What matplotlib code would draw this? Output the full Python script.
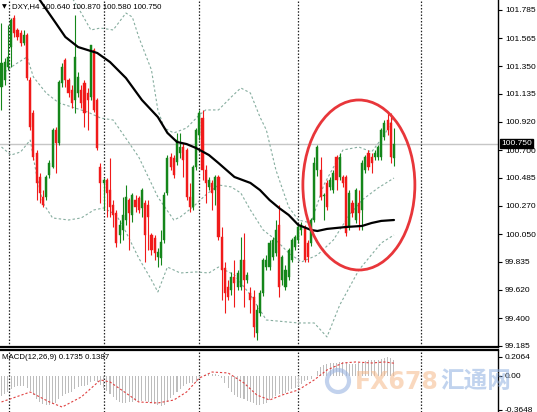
import matplotlib
matplotlib.use('Agg')
import matplotlib.pyplot as plt
import numpy as np
from matplotlib.patches import Ellipse, Circle

# ---------------- data ----------------
opens = [101.189, 101.243, 101.343, 101.498, 101.723, 101.630, 101.607, 101.529, 101.591, 101.243,
         100.987, 100.678, 100.492, 100.337, 100.337, 100.507, 100.569, 100.856, 100.755, 101.220,
         101.398, 101.243, 101.165, 101.088, 101.142, 101.165, 101.220, 101.142, 101.111, 101.475,
         101.088, 100.569, 100.446, 100.469, 100.391, 100.275, 100.213, 100.043, 100.082, 100.159,
         100.314, 100.198, 100.314, 100.329, 100.252, 100.291, 100.275, 100.043, 100.020, 99.873,
         99.865, 100.004, 100.368, 100.647, 100.639, 100.608, 100.678, 100.724, 100.701, 100.337,
         100.260, 100.569, 100.817, 100.949, 100.546, 100.415, 100.446, 100.391, 100.492, 100.028,
         99.788, 99.641, 99.617, 99.718, 99.641, 99.641, 99.850, 99.695, 99.594, 99.563,
         99.285, 99.439, 99.594, 99.795, 99.795, 99.873, 99.904, 100.121, 99.695, 99.641,
         99.718, 99.850, 99.950, 100.004, 100.082, 100.105, 99.981, 99.981, 100.159, 100.546,
         100.546, 100.345, 100.446, 100.415, 100.391, 100.647, 100.492, 100.492, 100.492, 100.105,
         100.291, 100.159, 100.291, 100.237, 100.546, 100.678, 100.647, 100.647, 100.647, 100.647,
         100.802, 100.933, 100.910, 100.640]
highs = [101.684, 101.413, 101.668, 101.723, 101.746, 101.645, 101.630, 101.630, 101.607, 101.266,
         101.011, 100.701, 100.523, 100.391, 100.507, 100.624, 100.871, 100.879, 101.243, 101.374,
         101.413, 101.258, 101.204, 101.746, 101.305, 101.204, 101.243, 101.181, 101.514, 101.491,
         101.103, 100.600, 100.484, 100.484, 100.639, 100.314, 100.237, 100.159, 100.337, 100.430,
         100.329, 100.368, 100.353, 100.345, 100.407, 100.314, 100.314, 100.058, 100.043, 99.942,
         100.082, 100.376, 100.662, 100.678, 100.662, 100.833, 100.833, 100.755, 100.716, 100.446,
         100.585, 100.871, 101.011, 101.011, 100.585, 100.492, 100.469, 100.507, 100.507, 100.105,
         99.834, 99.695, 99.757, 99.850, 99.772, 100.028, 100.059, 99.757, 99.641, 99.617,
         99.501, 99.617, 99.865, 99.888, 100.004, 100.028, 100.159, 100.275, 99.888, 99.811,
         99.942, 100.020, 100.043, 100.121, 100.144, 100.121, 100.004, 100.175, 100.647, 100.740,
         100.647, 100.368, 100.469, 100.492, 100.546, 100.662, 100.678, 100.507, 100.507, 100.391,
         100.314, 100.407, 100.391, 100.624, 100.662, 100.701, 100.678, 100.701, 100.740, 100.871,
         100.933, 100.987, 100.987, 100.870]
lows = [101.011, 101.204, 101.320, 101.343, 101.576, 101.552, 101.506, 101.514, 101.243, 100.856,
        100.624, 100.314, 100.291, 100.260, 100.314, 100.484, 100.562, 100.523, 100.740, 101.189,
        101.189, 101.111, 101.026, 100.987, 101.111, 101.026, 100.879, 100.856, 101.088, 100.995,
        100.701, 100.291, 100.237, 100.182, 100.182, 100.105, 99.950, 99.981, 100.004, 100.121,
        99.927, 100.144, 100.221, 100.213, 100.182, 99.834, 99.927, 99.888, 99.850, 99.795,
        99.811, 99.981, 100.353, 100.546, 100.484, 100.585, 100.639, 100.492, 100.314, 100.221,
        100.237, 100.546, 100.778, 100.469, 100.291, 100.391, 100.237, 100.275, 100.004, 99.540,
        99.439, 99.540, 99.579, 99.486, 99.617, 99.617, 99.486, 99.672, 99.439, 99.254,
        99.230, 99.416, 99.571, 99.772, 99.772, 99.850, 99.881, 99.563, 99.656, 99.617,
        99.695, 99.834, 99.927, 99.981, 100.043, 99.834, 99.834, 99.958, 100.144, 100.500,
        100.314, 100.159, 100.237, 100.391, 100.368, 100.391, 100.469, 100.415, 100.035, 100.082,
        100.182, 100.136, 100.082, 100.082, 100.523, 100.546, 100.523, 100.624, 100.624, 100.624,
        100.778, 100.817, 100.600, 100.580]
closes = [101.374, 101.382, 101.421, 101.707, 101.607, 101.576, 101.529, 101.591, 101.258, 100.879,
          100.647, 100.446, 100.368, 100.275, 100.492, 100.600, 100.856, 100.755, 101.227, 101.343,
          101.243, 101.142, 101.065, 101.421, 101.266, 101.065, 100.987, 101.088, 101.514, 101.011,
          100.716, 100.446, 100.469, 100.368, 100.260, 100.198, 99.981, 100.121, 100.198, 100.337,
          100.213, 100.353, 100.260, 100.237, 100.391, 100.043, 100.182, 99.927, 99.904, 99.912,
          99.989, 100.353, 100.639, 100.569, 100.507, 100.778, 100.724, 100.624, 100.337, 100.260,
          100.569, 100.856, 100.987, 100.546, 100.446, 100.469, 100.368, 100.492, 100.028, 99.772,
          99.594, 99.563, 99.718, 99.672, 99.749, 99.850, 99.695, 99.733, 99.540, 99.331,
          99.463, 99.594, 99.850, 99.850, 99.981, 100.004, 100.082, 99.641, 99.873, 99.772,
          99.927, 100.004, 100.028, 100.105, 100.121, 99.850, 99.873, 100.159, 100.600, 100.724,
          100.337, 100.353, 100.260, 100.469, 100.523, 100.469, 100.647, 100.446, 100.059, 100.368,
          100.213, 100.391, 100.213, 100.600, 100.647, 100.569, 100.600, 100.678, 100.724, 100.856,
          100.910, 100.856, 100.647, 100.750]

# moving average (black)
ma_idx = [10, 12, 17, 20, 24, 28, 30, 34, 39, 44, 49, 52, 55, 58, 61, 65, 68, 73, 78, 81, 84, 87,
          90, 93, 97, 99, 102, 108, 113, 116, 119, 123]
ma_val = [101.955, 101.862, 101.684, 101.576, 101.498, 101.467, 101.452, 101.382, 101.258, 101.088,
          100.956, 100.833, 100.763, 100.747, 100.716, 100.662, 100.600, 100.492, 100.446, 100.391,
          100.314, 100.252, 100.198, 100.121, 100.082, 100.074, 100.090, 100.105, 100.113, 100.136,
          100.152, 100.159]

# bands (dashed)
up_idx = [21, 25, 28, 31, 35, 39, 41, 43, 47, 49, 51, 54, 58, 62, 64, 68, 72, 75, 78, 81, 83, 86,
          90, 93, 97, 101, 107, 112, 116, 120, 123]
up_val = [101.924, 101.761, 101.630, 101.645, 101.630, 101.761, 101.730, 101.576, 101.320, 101.011,
          100.871, 100.833, 100.871, 100.972, 101.011, 101.011, 101.111, 101.181, 101.142, 100.956,
          100.856, 100.546, 100.260, 100.159, 100.136, 100.430, 100.701, 100.724, 100.686, 100.817,
          100.956]
mid_idx = [1, 4, 8, 10, 14, 18, 22, 27, 31, 35, 40, 43, 49, 54, 56, 60, 64, 68, 72, 75, 78, 82,
           86, 90, 94, 99, 104, 109, 113, 118, 123]
mid_val = [101.305, 101.359, 101.421, 101.266, 101.142, 101.065, 101.034, 100.995, 100.949, 100.933,
           100.755, 100.647, 100.337, 100.159, 100.182, 100.260, 100.353, 100.430, 100.415, 100.368,
           100.237, 100.082, 100.004, 99.904, 99.834, 99.888, 100.004, 100.198, 100.314, 100.407,
           100.484]
lo_idx = [0, 3, 6, 9, 11, 13, 16, 21, 25, 29, 32, 36, 39, 43, 47, 49, 52, 56, 61, 65, 68, 73, 78,
          83, 93, 98, 102, 106, 112, 119, 123]
lo_val = [100.724, 100.662, 100.686, 100.778, 100.507, 100.291, 100.175, 100.159, 100.175, 100.237,
          100.252, 100.198, 100.066, 99.865, 99.695, 99.602, 99.795, 99.749, 99.757, 99.749, 99.795,
          99.734, 99.579, 99.385, 99.362, 99.362, 99.254, 99.501, 99.772, 99.981, 100.043]

# MACD histogram and signal
macd = [-0.217, -0.196, -0.174, -0.141, -0.120, -0.109, -0.109, -0.109, -0.130, -0.163,
        -0.206, -0.250, -0.282, -0.304, -0.315, -0.315, -0.304, -0.293, -0.250, -0.217,
        -0.196, -0.185, -0.174, -0.141, -0.120, -0.109, -0.109, -0.098, -0.065, -0.054,
        -0.065, -0.098, -0.130, -0.163, -0.196, -0.228, -0.261, -0.282, -0.293, -0.293,
        -0.282, -0.282, -0.272, -0.272, -0.272, -0.272, -0.282, -0.282, -0.304, -0.315,
        -0.326, -0.315, -0.282, -0.239, -0.206, -0.174, -0.141, -0.109, -0.087, -0.076,
        -0.076, -0.065, -0.033, 0.000, 0.011, 0.022, 0.022, 0.022, 0.011, -0.022,
        -0.076, -0.130, -0.174, -0.206, -0.228, -0.239, -0.250, -0.272, -0.282, -0.293,
        -0.315, -0.315, -0.304, -0.293, -0.261, -0.239, -0.217, -0.196, -0.196, -0.185,
        -0.163, -0.141, -0.130, -0.109, -0.087, -0.054, -0.043, -0.033, 0.000, 0.054,
        0.098, 0.120, 0.130, 0.141, 0.141, 0.141, 0.152, 0.152, 0.141, 0.130,
        0.130, 0.130, 0.141, 0.141, 0.163, 0.174, 0.174, 0.174, 0.174, 0.185,
        0.196, 0.206, 0.196, 0.1735]
sig_idx = [0, 9, 15, 19, 25, 31, 34, 39, 43, 49, 54, 58, 62, 66, 71, 76, 80, 84, 88, 93, 98, 102,
           107, 111, 116, 120, 123]
sig_val = [-0.282, -0.174, -0.282, -0.337, -0.228, -0.043, -0.065, -0.185, -0.282, -0.293, -0.261,
           -0.174, -0.022, 0.043, 0.033, -0.076, -0.206, -0.261, -0.206, -0.152, -0.043, 0.065,
           0.141, 0.152, 0.141, 0.152, 0.1387]

separators = [2.35, 32.1, 61.9, 92.9, 131.5]
price_ticks = [101.785, 101.565, 101.350, 101.135, 100.920, 100.700, 100.485, 100.270, 100.050,
               99.835, 99.620, 99.400, 99.185]
macd_ticks = [0.2064, 0.0, -0.3648]
macd_tick_labels = ['0.2064', '0.00', '-0.3648']
last_price = 100.750
header = 'DXY,H4 100.640 100.870 100.580 100.750'
macd_header = 'MACD(12,26,9) 0.1735 0.1387'

# ---------------- figure ----------------
W, H = 537, 412
fig = plt.figure(figsize=(W / 100, H / 100), dpi=100)
fig.patch.set_facecolor('white')
FONT = 'Liberation Sans'
FS = 6

ax = fig.add_axes([0, 65 / H, 498 / W, 347 / H])
ax2 = fig.add_axes([0, 0, 498 / W, 62 / H])

xlim = (-0.47, 155.6)
for a in (ax, ax2):
    a.set_xlim(*xlim)
    a.set_facecolor('white')
    a.spines['left'].set_visible(False)
    a.spines['right'].set_color('black')
    a.spines['right'].set_linewidth(1.0)
    a.set_xticks([])
    a.yaxis.tick_right()
    a.tick_params(axis='y', direction='out', length=3, width=0.8, pad=2,
                  labelsize=FS, colors='black')

ax.spines['top'].set_visible(False)
ax.spines['bottom'].set_linewidth(1.6)
ax2.spines['top'].set_linewidth(1.6)
ax2.spines['bottom'].set_visible(False)

ax.set_ylim(99.176, 101.862)
ax2.set_ylim(-0.391, 0.282)

x = np.arange(len(opens))
o = np.array(opens); c = np.array(closes); hi = np.array(highs); lo = np.array(lows)
up = c >= o
GREEN = '#14861a'
RED = '#f01a1a'
cols = np.where(up, GREEN, RED)

# price line
ax.axhline(last_price, color='#c6c6c6', lw=1.0, zorder=1)

# separators
for s in separators:
    ax.axvline(s, color='#222222', ls=(0, (1.2, 1.4)), lw=0.9, zorder=1)
    ax2.axvline(s, color='#222222', ls=(0, (1.2, 1.4)), lw=0.9, zorder=1)

# bands
band_kw = dict(color='#86ad9f', lw=0.8, ls=(0, (2.2, 2.0)), zorder=2)
ax.plot(up_idx, up_val, **band_kw)
ax.plot(mid_idx, mid_val, **band_kw)
ax.plot(lo_idx, lo_val, **band_kw)

# candles
ax.vlines(x, lo, hi, colors=cols, lw=0.8, zorder=3)
body_h = np.maximum(np.abs(c - o), 0.006)
ax.bar(x, body_h, bottom=np.minimum(o, c), width=0.66, color=cols, edgecolor=cols,
       linewidth=0.3, zorder=4)

# moving average
ax.plot(ma_idx, ma_val, color='black', lw=1.6, zorder=5, solid_capstyle='round')

# ellipse highlight
ax.add_patch(Ellipse((112, 100.43), 35.1, 1.316, fill=False, edgecolor='#e8363a',
                     lw=2.0, zorder=6))

# y ticks
ax.set_yticks(price_ticks)
ax.set_yticklabels([f'{t:.3f}' for t in price_ticks], fontfamily=FONT, fontsize=FS)
ax2.set_yticks(macd_ticks)
ax2.set_yticklabels(macd_tick_labels, fontfamily=FONT, fontsize=FS)

# current price tag
ax.annotate('100.750', xy=(1.0, last_price), xycoords=('axes fraction', 'data'),
            xytext=(2.5, 0), textcoords='offset points', ha='left', va='center',
            fontsize=FS, fontfamily=FONT, color='white', zorder=10,
            bbox=dict(boxstyle='square,pad=0.12', fc='black', ec='black'),
            annotation_clip=False)

# headers
ax.text(0.004, 0.988, '▼', transform=ax.transAxes, fontsize=4.5, va='top', ha='left',
        color='black', fontfamily='DejaVu Sans')
ax.text(0.024, 0.992, header, transform=ax.transAxes, fontsize=5.7, va='top', ha='left',
        color='black', fontfamily=FONT)
ax2.text(0.004, 0.93, macd_header, transform=ax2.transAxes, fontsize=5.7, va='top', ha='left',
         color='black', fontfamily=FONT)

# MACD
ax2.bar(x, macd, width=0.32, color='#bdbdbd', zorder=2)
ax2.plot(sig_idx, sig_val, color='#e04040', lw=0.8, ls=(0, (2.0, 1.8)), zorder=3)

# watermark
fig.text(355 / W, 1 - 382 / H, 'FX678', fontsize=17, fontweight='bold', color='#f5b98a',
         alpha=0.55, ha='left', va='center', fontfamily='DejaVu Sans')
fig.text(440 / W, 1 - 381 / H, '汇通网', fontsize=17, fontweight='bold', color='#8fb0e0',
         alpha=0.55, ha='left', va='center', fontfamily=['Noto Sans CJK SC', 'DejaVu Sans'])
fig.patches.append(Circle((338, H - 381), 11, transform=None, fill=False,
                          edgecolor='#9ab4e2', lw=3, alpha=0.6))

fig.savefig('out.png', dpi=100, facecolor='white')
